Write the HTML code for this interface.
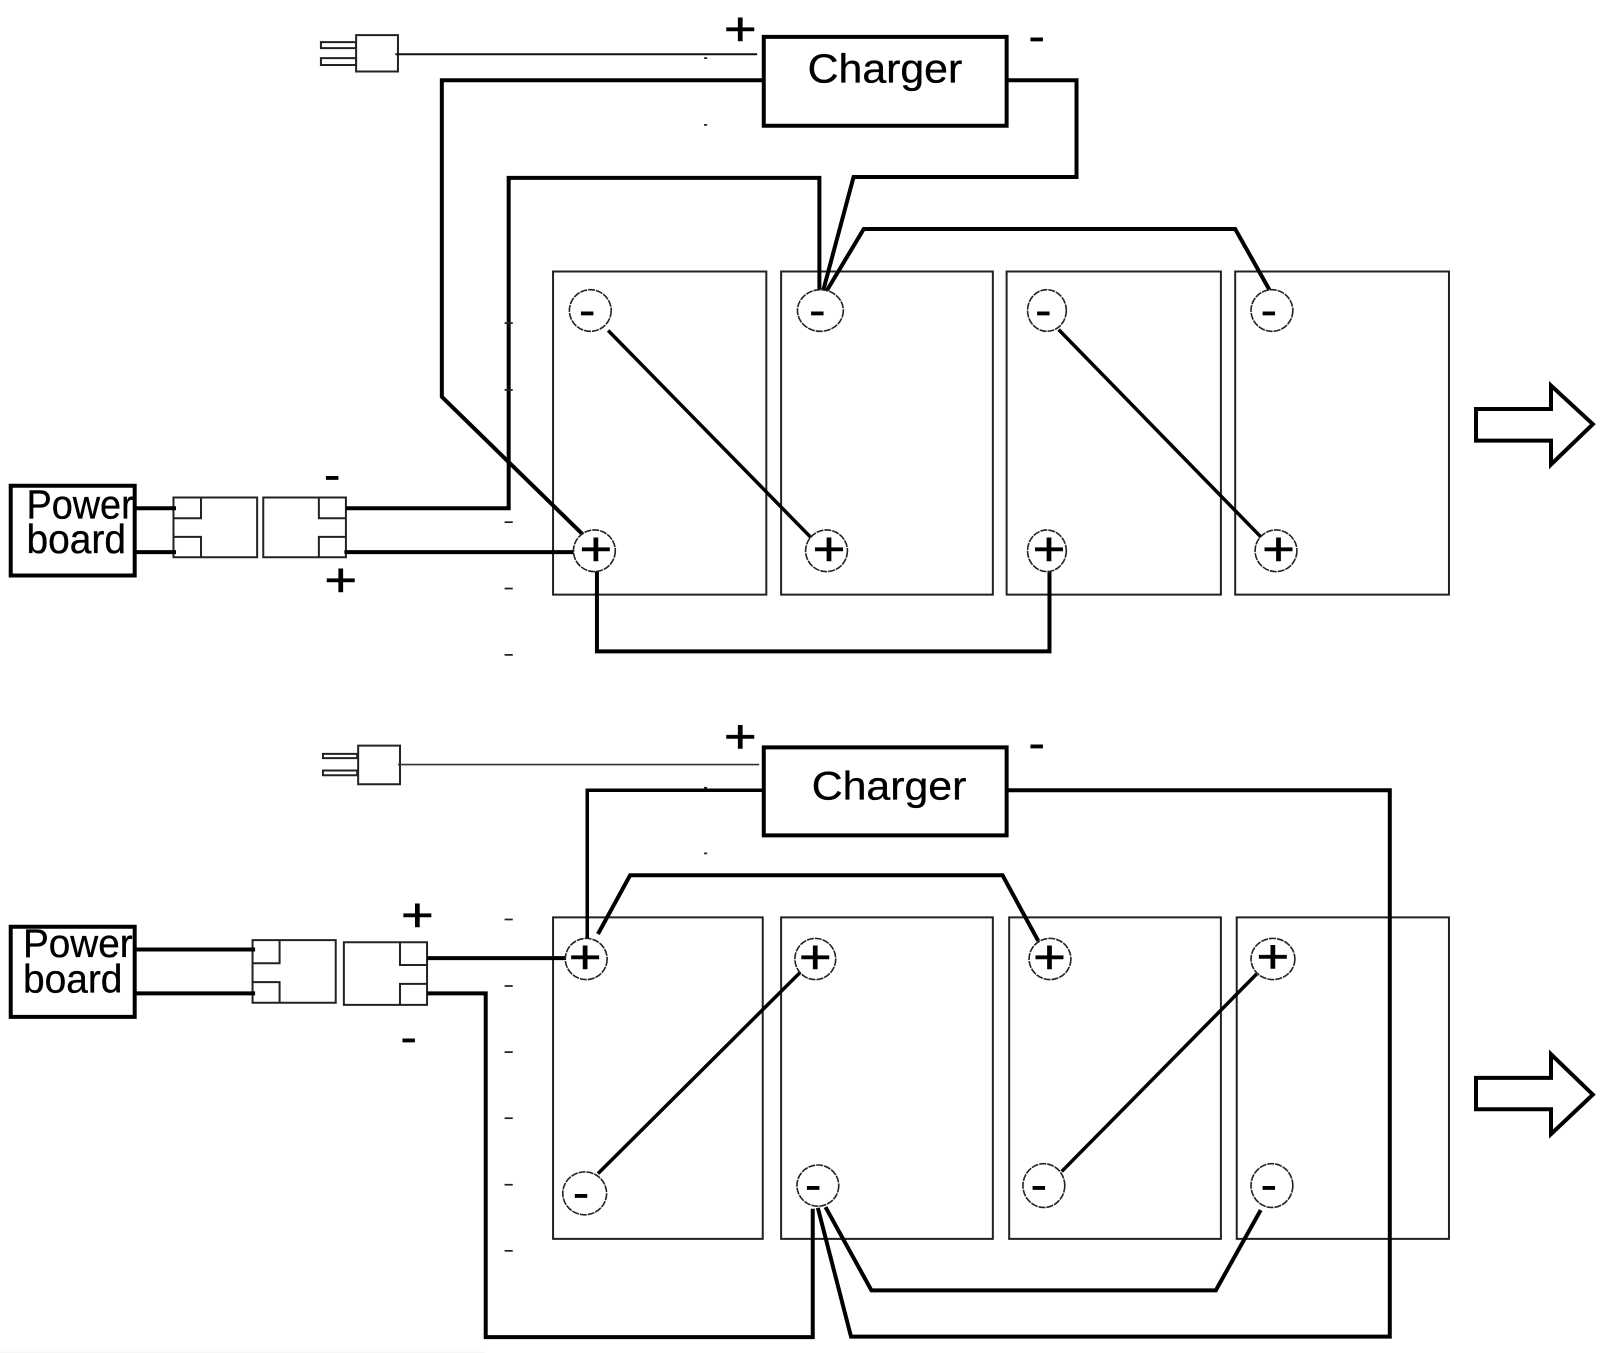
<!DOCTYPE html>
<html><head><meta charset="utf-8"><title>Battery wiring diagram</title>
<style>
html,body{margin:0;padding:0;background:#fff;width:1600px;height:1353px;overflow:hidden}
svg{display:block}
path,rect,ellipse{vector-effect:non-scaling-stroke}
.w{fill:none;stroke:#000;stroke-width:4;stroke-linejoin:miter}
.d{fill:none;stroke:#000;stroke-width:3.5}
.t{fill:none;stroke:#222;stroke-width:2}
.c{fill:#fff;stroke:#222;stroke-width:1.6;stroke-dasharray:7 1}
.p,.m{font-family:"Liberation Sans",sans-serif;text-anchor:middle;fill:#000}
.p{font-size:110px;stroke:#000;stroke-width:1.4}
.m{font-size:92px;stroke:#000;stroke-width:2}
.l{font-family:"Liberation Sans",sans-serif;font-size:93px;fill:#000;stroke:#000;stroke-width:.8}
.k{fill:#222}
</style></head><body>
<svg width="1600" height="1353" viewBox="0 0 1600 1353" xmlns="http://www.w3.org/2000/svg">
<rect width="1600" height="1353" fill="#fff"/>

<!-- TOP DIAGRAM -->
<g transform="scale(0.5102,0.4337)">
<g class="t">
<rect x="1084" y="626" width="418" height="745"/>
<rect x="1531" y="626" width="415" height="745"/>
<rect x="1973" y="626" width="420" height="745"/>
<rect x="2421" y="626" width="419" height="745"/>
<rect x="629" y="97" width="69" height="14"/>
<rect x="629" y="134" width="69" height="16"/>
<rect x="698" y="81" width="82" height="84" fill="#fff"/>
<path d="M340 1147H504V1285H340Z M340 1195H394V1147 M340 1238H394V1285"/>
<path d="M516 1147H678V1285H516Z M678 1195H625V1147 M678 1238H625V1285"/>
</g>
<path d="M775 125H1484" fill="none" stroke="#111" stroke-width="2"/>
<g class="w">
<rect x="1497" y="85" width="476" height="205"/>
<rect x="21" y="1120" width="243" height="207"/>
<path d="M1497 185H866V915L1142 1232"/>
<path d="M678 1172H997V410H1606V672"/>
<path d="M1973 185H2110V408H1673L1613 672"/>
<path d="M1618 675L1693 528H2421L2488 668"/>
<path d="M1170 1316V1502H2057V1316"/>
<path d="M264 1172H345M264 1273H345M675 1273H1126"/>
<path d="M2893 943H3040V889L3122 978L3040 1071V1016H2893Z"/>
</g>
<g class="d">
<path d="M1192 762L1590 1240"/>
<path d="M2075 760L2473 1240"/>
</g>
<g class="c">
<ellipse cx="1157" cy="716" rx="41" ry="48"/>
<ellipse cx="1608" cy="716" rx="45" ry="48"/>
<ellipse cx="2052" cy="716" rx="38" ry="48"/>
<ellipse cx="2493" cy="716" rx="41" ry="48"/>
<ellipse cx="1165" cy="1270" rx="41" ry="48"/>
<ellipse cx="1620" cy="1270" rx="41" ry="48"/>
<ellipse cx="2052" cy="1270" rx="38" ry="48"/>
<ellipse cx="2501" cy="1270" rx="41" ry="48"/>
</g>
<g class="k">
<rect x="1380" y="132" width="6" height="4"/><rect x="1380" y="286" width="6" height="4"/>
<rect x="989" y="743" width="16" height="4"/><rect x="989" y="897" width="16" height="4"/>
<rect x="989" y="1202" width="16" height="4"/><rect x="989" y="1355" width="16" height="4"/><rect x="989" y="1508" width="16" height="4"/>
</g>
<text class="p" x="1451" y="104">+</text>
<text class="m" x="2032" y="115">-</text>
<text class="m" x="651" y="1126">-</text>
<text class="p" x="668" y="1374">+</text>
<text class="l" x="1583" y="190" textLength="303" lengthAdjust="spacingAndGlyphs">Charger</text>
<text class="l" x="52" y="1195" textLength="210" lengthAdjust="spacingAndGlyphs">Power</text>
<text class="l" x="52" y="1275" textLength="195" lengthAdjust="spacingAndGlyphs">board</text>
<text class="m" x="1151" y="747">-</text><text class="m" x="1602" y="747">-</text><text class="m" x="2045" y="747">-</text><text class="m" x="2487" y="747">-</text>
<text class="p" x="1168" y="1303">+</text><text class="p" x="1625" y="1303">+</text><text class="p" x="2056" y="1303">+</text><text class="p" x="2506" y="1303">+</text>
</g>

<!-- BOTTOM DIAGRAM -->
<g transform="translate(0,680) scale(0.5102,0.4292) translate(0,-1333)">
<g class="t">
<rect x="1084" y="1886" width="411" height="749"/>
<rect x="1531" y="1886" width="415" height="749"/>
<rect x="1978" y="1886" width="415" height="749"/>
<rect x="2424" y="1886" width="416" height="749"/>
<rect x="633" y="1505" width="67" height="10"/>
<rect x="633" y="1544" width="67" height="11"/>
<rect x="702" y="1486" width="82" height="90" fill="#fff"/>
<path d="M495 1939H658V2085H495Z M495 1993H548V1939 M495 2037H548V2085"/>
<path d="M674 1944H837V2090H674Z M837 1997H784V1944 M837 2041H784V2090"/>
</g>
<path d="M780 1530H1488" fill="none" stroke="#333" stroke-width="1.6"/>
<g class="w">
<rect x="1497" y="1490" width="476" height="205"/>
<rect x="21" y="1908" width="243" height="210"/>
<path d="M1497 1590H1151V1938" stroke-width="3.5"/>
<path d="M1973 1590H2724V2863H1668L1603 2563"/>
<path d="M838 2063H952V2864H1593V2565"/>
<path d="M838 1981H1108"/>
<path d="M1172 1925L1235 1788H1965L2035 1941"/>
<path d="M1618 2561L1708 2755H2383L2471 2568"/>
<path d="M264 1961H500M264 2063H500"/>
<path d="M2893 2260H3040V2205L3122 2299L3040 2391V2333H2893Z"/>
</g>
<g class="d">
<path d="M1172 2483L1572 2010"/>
<path d="M2081 2478L2463 2018"/>
</g>
<g class="c">
<ellipse cx="1149" cy="1983" rx="41" ry="48"/>
<ellipse cx="1598" cy="1983" rx="40" ry="48"/>
<ellipse cx="2058" cy="1983" rx="41" ry="48"/>
<ellipse cx="2495" cy="1983" rx="43" ry="48"/>
<ellipse cx="1146" cy="2529" rx="43" ry="50"/>
<ellipse cx="1603" cy="2511" rx="41" ry="48"/>
<ellipse cx="2046" cy="2511" rx="41" ry="51"/>
<ellipse cx="2493" cy="2511" rx="41" ry="51"/>
</g>
<g class="k">
<rect x="1380" y="1582" width="6" height="4"/><rect x="1380" y="1735" width="6" height="4"/>
<rect x="989" y="1889" width="16" height="4"/><rect x="989" y="2044" width="16" height="4"/>
<rect x="989" y="2198" width="16" height="4"/><rect x="989" y="2352" width="16" height="4"/>
<rect x="989" y="2507" width="16" height="4"/><rect x="989" y="2661" width="16" height="4"/>
</g>
<text class="p" x="1451" y="1502">+</text>
<text class="m" x="2032" y="1513">-</text>
<text class="p" x="818" y="1918">+</text>
<text class="m" x="801" y="2198">-</text>
<text class="l" x="1591" y="1611" textLength="303" lengthAdjust="spacingAndGlyphs">Charger</text>
<text class="l" x="45" y="1978" textLength="215" lengthAdjust="spacingAndGlyphs">Power</text>
<text class="l" x="45" y="2061" textLength="195" lengthAdjust="spacingAndGlyphs">board</text>
<text class="p" x="1147" y="2016">+</text><text class="p" x="1598" y="2016">+</text><text class="p" x="2057" y="2016">+</text><text class="p" x="2495" y="2014">+</text>
<text class="m" x="1139" y="2560">-</text><text class="m" x="1594" y="2541">-</text><text class="m" x="2036" y="2541">-</text><text class="m" x="2487" y="2541">-</text>
<rect x="0" y="2898" width="950" height="2" fill="#eee"/>
</g>
</svg>
</body></html>
